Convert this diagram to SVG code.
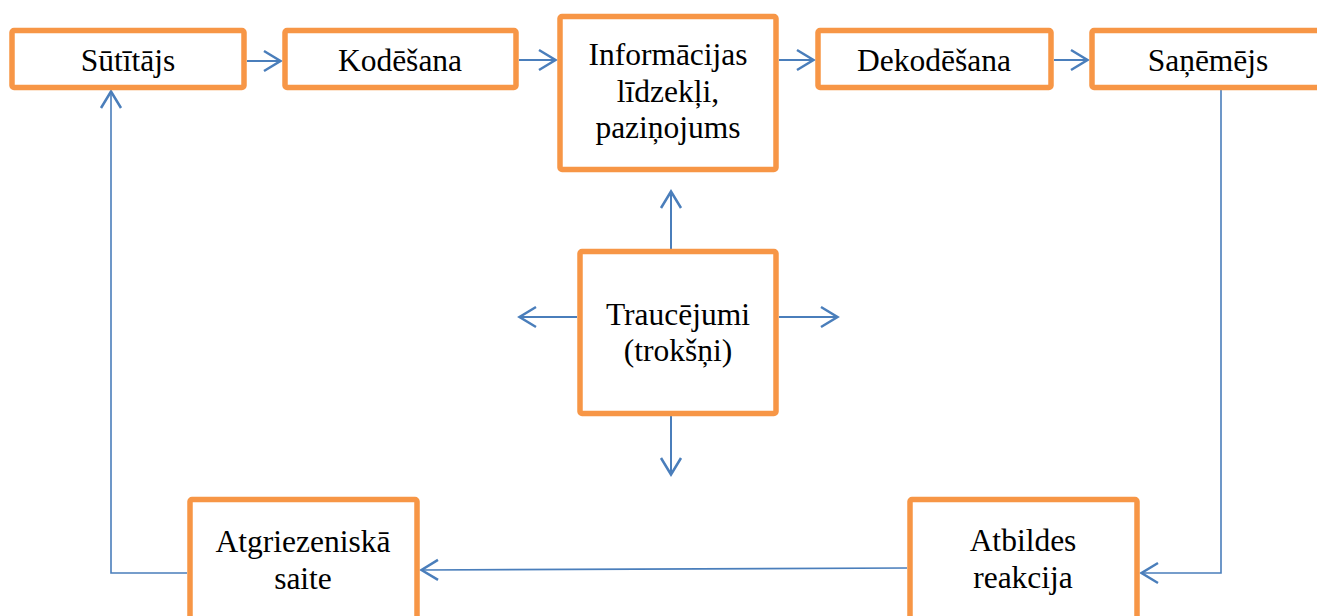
<svg xmlns="http://www.w3.org/2000/svg" width="1317" height="616" viewBox="0 0 1317 616">
<style>
.box{fill:#fff;stroke:#F79646;stroke-width:5.5}
.t{font-family:"Liberation Serif","Times New Roman",serif;font-size:31.5px;fill:#000;text-anchor:middle}
.c{fill:none;stroke:#4A7EBB;stroke-width:2}
.c2{fill:none;stroke:#4A7EBB;stroke-width:1.6}
</style>
<defs>
<marker id="arr" viewBox="-20 -12 22 24" refX="0" refY="0" markerWidth="22" markerHeight="24" markerUnits="userSpaceOnUse" orient="auto">
<path d="M-17,-10 L-0.5,0 L-17,10" fill="none" stroke="#4A7EBB" stroke-width="2.5"/>
</marker>
</defs>
<rect width="1317" height="616" fill="#fff"/>
<g id="connectors">
<line class="c" x1="247" y1="61" x2="281" y2="61" marker-end="url(#arr)"/>
<line class="c" x1="519" y1="60" x2="556" y2="60" marker-end="url(#arr)"/>
<line class="c" x1="779" y1="60" x2="814" y2="60" marker-end="url(#arr)"/>
<line class="c" x1="1054" y1="60" x2="1088" y2="60" marker-end="url(#arr)"/>
<polyline class="c2" points="1221,90 1221,573 1141,573" marker-end="url(#arr)"/>
<line class="c2" x1="907" y1="568" x2="421" y2="570" marker-end="url(#arr)"/>
<polyline class="c2" points="187,573 111,573 111,91" marker-end="url(#arr)"/>
<line class="c" x1="671" y1="249" x2="671" y2="191" marker-end="url(#arr)"/>
<line class="c" x1="671" y1="416" x2="671" y2="475" marker-end="url(#arr)"/>
<line class="c" x1="577" y1="317" x2="519" y2="317" marker-end="url(#arr)"/>
<line class="c" x1="779" y1="317" x2="838" y2="317" marker-end="url(#arr)"/>
</g>
<g id="sutitajs">
<rect class="box" x="12" y="30.5" width="232" height="57" rx="2"/>
<text class="t" x="128" y="71">Sūtītājs</text>
</g>
<g id="kodesana">
<rect class="box" x="285" y="30.5" width="231" height="57" rx="2"/>
<text class="t" x="400" y="71">Kodēšana</text>
</g>
<g id="informacijas">
<rect class="box" x="560" y="16.5" width="216" height="153" rx="2"/>
<text class="t" x="668" y="65">Informācijas</text>
<text class="t" x="668" y="102">līdzekļi,</text>
<text class="t" x="668" y="138">paziņojums</text>
</g>
<g id="dekodesana">
<rect class="box" x="818" y="30.5" width="233" height="57" rx="2"/>
<text class="t" x="934" y="71">Dekodēšana</text>
</g>
<g id="sanemejs">
<rect class="box" x="1092" y="30.5" width="233" height="57" rx="2"/>
<text class="t" x="1208" y="71">Saņēmējs</text>
</g>
<g id="traucejumi">
<rect class="box" x="580" y="251.5" width="196" height="162" rx="2"/>
<text class="t" x="678" y="325">Traucējumi</text>
<text class="t" x="678" y="361">(trokšņi)</text>
</g>
<g id="atgriezeniska">
<rect class="box" x="190" y="499.5" width="227" height="130" rx="2"/>
<text class="t" x="303" y="552">Atgriezeniskā</text>
<text class="t" x="303" y="589">saite</text>
</g>
<g id="atbildes">
<rect class="box" x="910" y="499.5" width="227" height="130" rx="2"/>
<text class="t" x="1023" y="551">Atbildes</text>
<text class="t" x="1023" y="588">reakcija</text>
</g>
</svg>
